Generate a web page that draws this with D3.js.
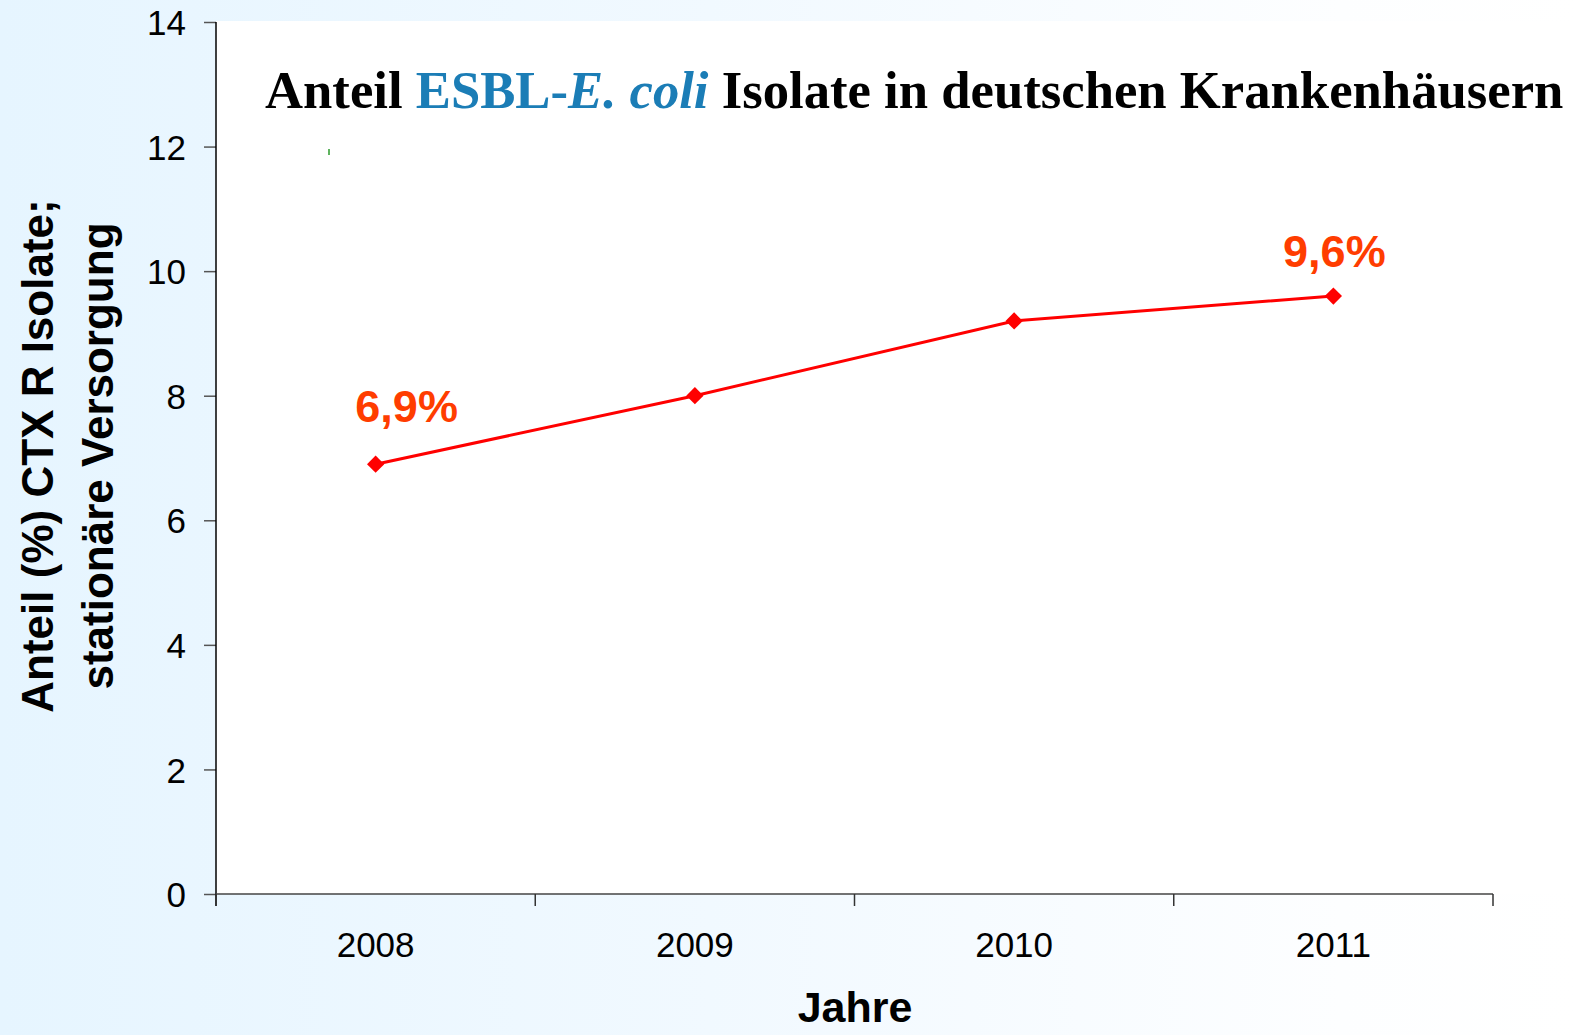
<!DOCTYPE html>
<html>
<head>
<meta charset="utf-8">
<script src="https://cdn.jsdelivr.net/npm/d3@7"></script>
<style>
  html, body { margin: 0; padding: 0; }
  svg { display: block; }
</style>
</head>
<body>
<svg width="1577" height="1035"></svg>
<script>
var years = ["2008", "2009", "2010", "2011"];
var shares = [6.9, 8.0, 9.2, 9.6];
var yTicks = [0, 2, 4, 6, 8, 10, 12, 14];
var pointLabels = ["6,9%", "", "", "9,6%"];

var svg = d3.select("svg"),
    width = +svg.attr("width"),
    height = +svg.attr("height");

var plotLeft = 216, plotTop = 22, plotRight = 1493, plotBottom = 894;

// background: pale blue fading to white
var defs = svg.append("defs");
var grad = defs.append("linearGradient").attr("id", "bg")
    .attr("x1", "0").attr("x2", "1").attr("y1", "0").attr("y2", "0");
grad.append("stop").attr("offset", "0%").attr("stop-color", "#e6f5ff");
grad.append("stop").attr("offset", "45%").attr("stop-color", "#f1f9ff");
grad.append("stop").attr("offset", "85%").attr("stop-color", "#fdfeff");
grad.append("stop").attr("offset", "100%").attr("stop-color", "#ffffff");

svg.append("rect").attr("width", width).attr("height", height).attr("fill", "url(#bg)");
svg.append("rect")
    .attr("x", plotLeft).attr("y", plotTop - 1)
    .attr("width", width - plotLeft).attr("height", plotBottom - plotTop + 1)
    .attr("fill", "#ffffff");

var x = d3.scaleBand().domain(years).range([plotLeft, plotRight]);
var y = d3.scaleLinear().domain([0, 14]).range([plotBottom, plotTop]);

// y axis
var yAxis = svg.append("g")
    .attr("transform", "translate(" + plotLeft + ",0)")
    .call(d3.axisLeft(y).tickValues(yTicks).tickSize(12).tickPadding(18).tickFormat(d3.format("d")));
yAxis.select(".domain").remove();
yAxis.selectAll(".tick line").attr("stroke", "#555").attr("stroke-width", 1.5);
yAxis.selectAll("text")
    .attr("font-family", "Liberation Sans, Arial, sans-serif")
    .attr("font-size", 35).attr("fill", "#000")
    .attr("dy", "0.36em");
svg.append("line")
    .attr("x1", plotLeft).attr("x2", plotLeft)
    .attr("y1", plotTop).attr("y2", plotBottom + 12)
    .attr("stroke", "#000").attr("stroke-width", 1.5);

// x axis: ticks at band edges
var edges = years.map(function (d) { return x(d); }).concat([plotRight]);
var xAxis = svg.append("g");
xAxis.append("line")
    .attr("x1", plotLeft).attr("x2", plotRight)
    .attr("y1", plotBottom).attr("y2", plotBottom)
    .attr("stroke", "#444").attr("stroke-width", 1.5);
xAxis.selectAll(".edge").data(edges).enter().append("line")
    .attr("x1", function (d) { return d; }).attr("x2", function (d) { return d; })
    .attr("y1", plotBottom).attr("y2", plotBottom + 12)
    .attr("stroke", "#333").attr("stroke-width", 1.5);
xAxis.selectAll(".lbl").data(years).enter().append("text")
    .attr("x", function (d) { return x(d) + x.bandwidth() / 2; })
    .attr("y", plotBottom + 63)
    .attr("text-anchor", "middle")
    .attr("font-family", "Liberation Sans, Arial, sans-serif")
    .attr("font-size", 35)
    .text(function (d) { return d; });

// axis titles
svg.append("text")
    .attr("x", 855).attr("y", 1022)
    .attr("text-anchor", "middle")
    .attr("font-family", "Liberation Sans, Arial, sans-serif")
    .attr("font-weight", "bold").attr("font-size", 43)
    .text("Jahre");

var yt = svg.append("text")
    .attr("transform", "translate(53,456) rotate(-90)")
    .attr("text-anchor", "middle")
    .attr("font-family", "Liberation Sans, Arial, sans-serif")
    .attr("font-weight", "bold").attr("font-size", 44);
yt.append("tspan").attr("x", 0).attr("y", 0).text("Anteil (%) CTX R Isolate;");
yt.append("tspan").attr("x", 0).attr("y", 60).text("stationäre Versorgung");

// title
var title = svg.append("text")
    .attr("x", 265).attr("y", 108)
    .attr("font-family", "Liberation Serif, Times New Roman, serif")
    .attr("font-weight", "bold").attr("font-size", 52.7);
title.append("tspan").text("Anteil ");
title.append("tspan").attr("fill", "#1b7db6").text("ESBL-");
title.append("tspan").attr("fill", "#1b7db6").attr("font-style", "italic").text("E. coli");
title.append("tspan").text(" Isolate in deutschen Krankenhäusern");

// small green mark
svg.append("line")
    .attr("x1", 329).attr("x2", 329).attr("y1", 149).attr("y2", 155)
    .attr("stroke", "#2a9a2a").attr("stroke-width", 1.5);

// line + markers
var pts = years.map(function (d, i) { return { year: d, v: shares[i], label: pointLabels[i] }; });
var line = d3.line()
    .x(function (d) { return x(d.year) + x.bandwidth() / 2; })
    .y(function (d) { return y(d.v); });
svg.append("path").datum(pts)
    .attr("d", line)
    .attr("fill", "none").attr("stroke", "#ff0000").attr("stroke-width", 3);
svg.selectAll(".mk").data(pts).enter().append("path")
    .attr("d", d3.symbol().type(d3.symbolDiamond2).size(190)())
    .attr("transform", function (d) { return "translate(" + (x(d.year) + x.bandwidth() / 2) + "," + y(d.v) + ")"; })
    .attr("fill", "#ff0000");

// value labels
var labelOffset = [[31, -42], [0, 0], [0, 0], [1, -29]];
svg.selectAll(".vl").data(pts).enter().append("text")
    .attr("x", function (d, i) { return x(d.year) + x.bandwidth() / 2 + labelOffset[i][0]; })
    .attr("y", function (d, i) { return y(d.v) + labelOffset[i][1]; })
    .attr("text-anchor", "middle")
    .attr("font-family", "Liberation Sans, Arial, sans-serif")
    .attr("font-weight", "bold").attr("font-size", 45)
    .attr("fill", "#ff3d00")
    .text(function (d) { return d.label; });
</script>
</body>
</html>
